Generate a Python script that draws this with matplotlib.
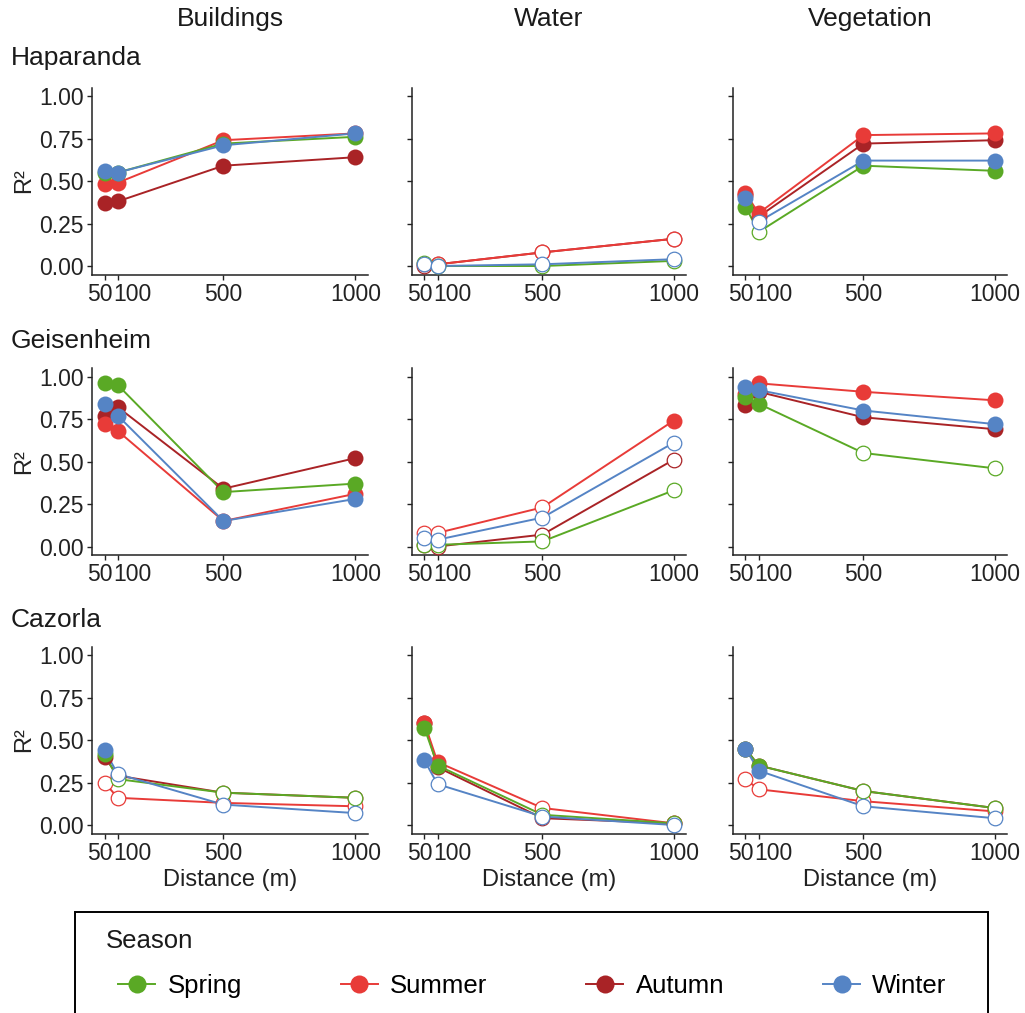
import numpy as np
import matplotlib.pyplot as plt
from matplotlib.lines import Line2D
from matplotlib.patches import Rectangle
from matplotlib.transforms import ScaledTranslation

plt.rcParams['font.family'] = ['Liberation Sans', 'DejaVu Sans']

# data: R2 by season (Spring, Summer, Autumn, Winter) at each buffer distance
distance = [50, 100, 500, 1000]
seasons = ['Spring', 'Summer', 'Autumn', 'Winter']
colors = ['#5aa925', '#e83b38', '#a92326', '#5584c5']
sites = ['Haparanda', 'Geisenheim', 'Cazorla']
covers = ['Buildings', 'Water', 'Vegetation']

hap_build = [[0.55, 0.55, 0.72, 0.76], [0.48, 0.49, 0.74, 0.78],
             [0.37, 0.38, 0.59, 0.64], [0.56, 0.55, 0.71, 0.78]]
hap_build_sig = [[1, 1, 1, 1], [1, 1, 1, 1], [1, 1, 1, 1], [1, 1, 1, 1]]
hap_water = [[0.02, 0.00, 0.00, 0.03], [0.01, 0.01, 0.08, 0.16],
             [0.00, 0.01, 0.08, 0.16], [0.01, 0.00, 0.01, 0.04]]
hap_water_sig = [[0, 0, 0, 0], [0, 0, 0, 0], [0, 0, 0, 0], [0, 0, 0, 0]]
hap_veg = [[0.35, 0.20, 0.59, 0.56], [0.43, 0.31, 0.77, 0.78],
           [0.42, 0.29, 0.72, 0.74], [0.40, 0.26, 0.62, 0.62]]
hap_veg_sig = [[1, 0, 1, 1], [1, 1, 1, 1], [1, 0, 1, 1], [1, 0, 1, 1]]

gei_build = [[0.96, 0.95, 0.32, 0.37], [0.72, 0.68, 0.15, 0.31],
             [0.77, 0.82, 0.34, 0.52], [0.84, 0.77, 0.15, 0.28]]
gei_build_sig = [[1, 1, 1, 1], [1, 1, 1, 1], [1, 1, 1, 1], [1, 1, 1, 1]]
gei_water = [[0.01, 0.01, 0.03, 0.33], [0.08, 0.08, 0.23, 0.74],
             [0.01, 0.00, 0.07, 0.51], [0.05, 0.04, 0.17, 0.61]]
gei_water_sig = [[0, 0, 0, 0], [0, 0, 0, 1], [0, 0, 0, 0], [0, 0, 0, 0]]
gei_veg = [[0.88, 0.84, 0.55, 0.46], [0.90, 0.96, 0.91, 0.86],
           [0.83, 0.91, 0.76, 0.69], [0.94, 0.92, 0.80, 0.72]]
gei_veg_sig = [[1, 1, 0, 0], [1, 1, 1, 1], [1, 1, 1, 1], [1, 1, 1, 1]]

caz_build = [[0.42, 0.27, 0.19, 0.16], [0.25, 0.16, 0.13, 0.11],
             [0.40, 0.29, 0.19, 0.16], [0.44, 0.30, 0.12, 0.07]]
caz_build_sig = [[1, 0, 0, 0], [0, 0, 0, 0], [1, 0, 0, 0], [1, 0, 0, 0]]
caz_water = [[0.57, 0.35, 0.06, 0.01], [0.60, 0.37, 0.10, 0.01],
             [0.60, 0.34, 0.04, 0.01], [0.38, 0.24, 0.05, 0.00]]
caz_water_sig = [[1, 1, 0, 0], [1, 1, 0, 0], [1, 1, 0, 0], [1, 0, 0, 0]]
caz_veg = [[0.45, 0.35, 0.20, 0.10], [0.27, 0.21, 0.14, 0.08],
           [0.45, 0.35, 0.20, 0.10], [0.45, 0.32, 0.11, 0.04]]
caz_veg_sig = [[1, 1, 0, 0], [0, 0, 0, 0], [1, 1, 0, 0], [1, 1, 0, 0]]

panels = [[(hap_build, hap_build_sig), (hap_water, hap_water_sig), (hap_veg, hap_veg_sig)],
          [(gei_build, gei_build_sig), (gei_water, gei_water_sig), (gei_veg, gei_veg_sig)],
          [(caz_build, caz_build_sig), (caz_water, caz_water_sig), (caz_veg, caz_veg_sig)]]

draw_order = [2, 1, 0, 3]   # autumn, summer, spring, winter

W, H = 1025, 1013
fig = plt.figure(figsize=(W / 100, H / 100), dpi=100)

lefts = [92, 412, 733]
widths = [276, 274, 274]
tops = [87.5, 368, 646.5]
ph = 187
tick_fs = 16.5
lab_fs = 17
strip_fs = 19
leg_fs = 18.5
ink = '#222222'
# nudge of the crowded 50 / 100 labels (pixels)
label_shift = [-5, 14.5, 0, 0]

x = np.array(distance)
for r in range(3):
    for c in range(3):
        ax = fig.add_axes([lefts[c] / W, 1 - (tops[r] + ph) / H, widths[c] / W, ph / H])
        vals, sig = panels[r][c]
        for k, i in enumerate(draw_order):
            ax.plot(x, vals[i], color=colors[i], lw=1.4, zorder=2 + k * 0.01)
        for k, i in enumerate(draw_order):
            y = np.array(vals[i])
            s = np.array(sig[i], dtype=bool)
            ax.plot(x[s], y[s], 'o', ms=11.5, color=colors[i], mec=colors[i], mew=0,
                    zorder=3 + k * 0.1, clip_on=False)
            ax.plot(x[~s], y[~s], 'o', ms=10.5, mfc='white', mec=colors[i], mew=0.9,
                    zorder=3 + k * 0.1, clip_on=False)
        ax.set_xlim(2.5, 1047.5)
        ax.set_ylim(-0.05, 1.05)
        ax.set_xticks(distance)
        ax.set_xticklabels([str(d) for d in distance])
        ax.set_yticks([0, 0.25, 0.5, 0.75, 1.0])
        for sp in ['top', 'right']:
            ax.spines[sp].set_visible(False)
        for sp in ['left', 'bottom']:
            ax.spines[sp].set_color(ink)
            ax.spines[sp].set_linewidth(1.1)
        ax.tick_params(direction='out', length=3.5, width=1.0, color=ink,
                       labelsize=tick_fs, labelcolor=ink, pad=2.5)
        for t, dx in zip(ax.xaxis.get_major_ticks(), label_shift):
            t.label1.set_transform(t.label1.get_transform() +
                                   ScaledTranslation(dx / 100, 0, fig.dpi_scale_trans))
        if c == 0:
            ax.set_yticklabels(['0.00', '0.25', '0.50', '0.75', '1.00'])
            ax.set_ylabel('R²', fontsize=lab_fs, color=ink, labelpad=3)
        else:
            ax.set_yticklabels([])
        if r == 2:
            ax.set_xlabel('Distance (m)', fontsize=lab_fs, color=ink, labelpad=3)

# strip labels
for c, name in enumerate(covers):
    fig.text((lefts[c] + widths[c] / 2) / W, 1 - 19 / H, name, ha='center', va='center',
             fontsize=strip_fs, color='#1a1a1a')
for r, (name, yy) in enumerate(zip(sites, [58, 341, 620])):
    fig.text(11 / W, 1 - yy / H, name, ha='left', va='center', fontsize=strip_fs, color='#1a1a1a')

# legend box
fig.patches.append(Rectangle((75 / W, 1 - 1030 / H), 913 / W, 118 / H, transform=fig.transFigure,
                             facecolor='white', edgecolor='black', lw=1.4, clip_on=False))
fig.text(106 / W, 1 - 941 / H, 'Season', ha='left', va='center', fontsize=leg_fs, color='#1a1a1a')
handles = [Line2D([0], [0], color=colors[i], lw=1.4, marker='o', ms=13, mew=0)
           for i in range(4)]
fig.legend(handles, seasons, loc='center left', bbox_to_anchor=(118 / W, 1 - 986 / H),
           ncol=4, frameon=False, fontsize=leg_fs, handlelength=1.45, handletextpad=0.47,
           columnspacing=3.85, borderpad=0, borderaxespad=0)

fig.savefig('out.png', dpi=100)
